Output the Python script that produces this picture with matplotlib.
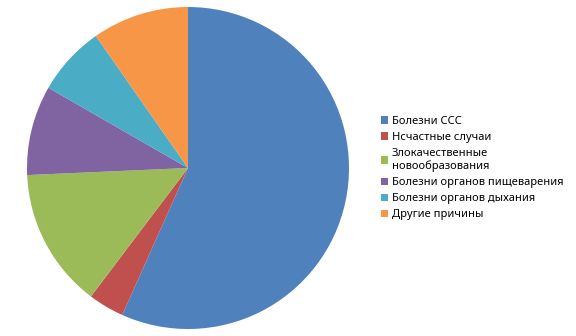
import matplotlib.pyplot as plt

# Структура причин смертности, %
labels = ['Болезни ССС', 'Нсчастные случаи', 'Злокачественные\nновообразования',
          'Болезни органов пищеварения', 'Болезни органов дыхания', 'Другие причины']
shares = [56.7, 3.6, 14.0, 9.0, 7.0, 9.7]
colors = ['#4F81BD', '#C0504D', '#9BBB59', '#8064A2', '#4BACC6', '#F79646']

plt.rcParams['font.family'] = ['Noto Sans', 'DejaVu Sans']

fig = plt.figure(figsize=(5.76, 3.36), dpi=100)
ax = fig.add_axes([27 / 576, 7 / 336, 322 / 576, 322 / 336])
wedges, _ = ax.pie(shares, colors=colors, startangle=90, counterclock=False,
                   radius=1, wedgeprops={'linewidth': 0})
ax.set_aspect('equal')
ax.set_xlim(-1, 1)
ax.set_ylim(-1, 1)

fig.legend(wedges, labels, loc='center left', bbox_to_anchor=(375 / 576, 0.5),
           frameon=False, fontsize=8, handlelength=0.65, handleheight=0.65,
           handletextpad=0.35, labelspacing=0.45, borderpad=0)

fig.savefig('out.png', dpi=100)
